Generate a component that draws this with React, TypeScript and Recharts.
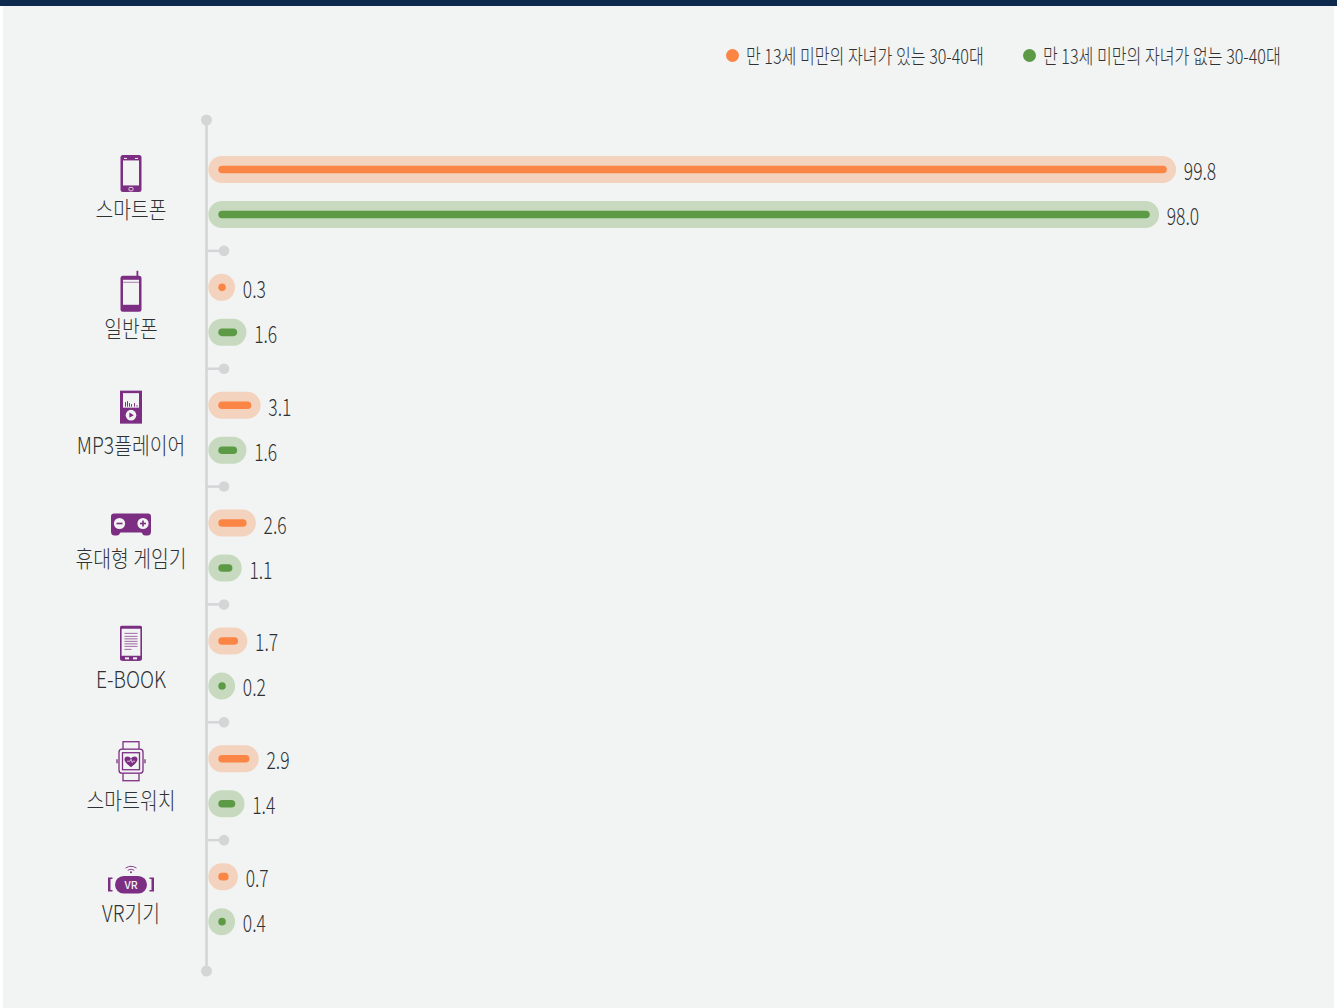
import { BarChart, Bar, XAxis, YAxis, Legend, LabelList, usePlotArea } from "recharts";

const categories = ["스마트폰", "일반폰", "MP3플레이어", "휴대형 게임기", "E-BOOK", "스마트워치", "VR기기"];
const withChildren = [99.8, 0.3, 3.1, 2.6, 1.7, 2.9, 0.7];
const withoutChildren = [98.0, 1.6, 1.6, 1.1, 0.2, 1.4, 0.4];
const seriesNames = ["만 13세 미만의 자녀가 있는 30-40대", "만 13세 미만의 자녀가 없는 30-40대"];

const chartData = categories.map((name, i) => ({
  name,
  withChildren: withChildren[i],
  withoutChildren: withoutChildren[i],
}));

const PANEL = "#f2f4f3";
const NAVY = "#0d2a4e";
const PURPLE = "#7c2e83";
const AXIS = "#d3d5d7";
const TEXT = "#2f3234";
const ORANGE = "#fa8544";
const ORANGE_SOFT = "#f3d2be";
const GREEN = "#5c9a45";
const GREEN_SOFT = "#c7dabf";
const FONT = '"Noto Sans CJK KR", "Noto Sans", sans-serif';

const BAND = 825 / 7;
const LABEL_X = 131;
const CAP = 3.7;

// vertical offsets from the band centre: icon, then caption
const tickOffsets = [
  [-18.5, 18.5],
  [-18, 19],
  [-20.5, 18],
  [-21, 13],
  [-20, 17],
  [-20, 20],
  [-14, 15],
];

function SmartPhone() {
  return (
    <g>
      <rect x={-10.5} y={-18.5} width={21} height={37} rx={2.5} fill={PURPLE} />
      <rect x={-8} y={-13} width={16} height={25} fill={PANEL} />
      <rect x={-7} y={-15.5} width={3} height={1} fill={PANEL} />
      <rect x={4} y={-15.5} width={3} height={1} fill={PANEL} />
      <rect x={-2} y={14} width={4} height={3.4} rx={0.8} fill="none" stroke={PANEL} strokeWidth={0.8} />
    </g>
  );
}

function FeaturePhone() {
  return (
    <g>
      <rect x={5.5} y={-21} width={1.8} height={6} fill={PURPLE} />
      <rect x={-10.5} y={-16} width={21} height={36} rx={2.5} fill={PURPLE} />
      <rect x={-8} y={-12} width={16} height={25} fill={PANEL} />
      <rect x={-8} y={-10} width={16} height={1} fill={PURPLE} opacity={0.6} />
    </g>
  );
}

function Mp3Player() {
  return (
    <g>
      <rect x={-11} y={-16.5} width={22} height={33} fill={PURPLE} />
      <rect x={-8} y={-14} width={16} height={14.5} fill={PANEL} />
      {[-6, -4, -2, 0, 3, 5.5].map((x, i) => (
        <rect key={x} x={x} y={[-5, -6, -4, -3, -4, -2][i]} width={1} height={[4.5, 5.5, 3.5, 2.5, 3.5, 1.5][i]} fill={PURPLE} />
      ))}
      <circle cx={0} cy={8} r={5.3} fill={PANEL} />
      <path d="M-1.6 5.4 L2.8 8 L-1.6 10.6 Z" fill={PURPLE} />
    </g>
  );
}

function GameConsole() {
  return (
    <g>
      <path
        d="M-17 -11 H17 Q20 -11 20 -8 V7 Q20 11 16.5 11 H14 Q12 11 10.5 8 H-10.5 Q-12 11 -14 11 H-16.5 Q-20 11 -20 7 V-8 Q-20 -11 -17 -11 Z"
        fill={PURPLE}
      />
      <circle cx={-11.5} cy={-1} r={5.6} fill={PANEL} />
      <rect x={-14.5} y={-1.8} width={6} height={1.6} fill={PURPLE} />
      <circle cx={12} cy={-1} r={5.6} fill={PANEL} />
      <rect x={9} y={-1.8} width={6} height={1.6} fill={PURPLE} />
      <rect x={11.2} y={-4} width={1.6} height={6} fill={PURPLE} />
    </g>
  );
}

function EBook() {
  return (
    <g>
      <rect x={-10.2} y={-16.5} width={20.4} height={33} rx={2.5} fill="none" stroke={PURPLE} strokeWidth={1.6} />
      <rect x={-11} y={12.5} width={22} height={4.8} rx={2} fill={PURPLE} />
      <rect x={-11} y={-17.5} width={22} height={3} rx={1.5} fill={PURPLE} />
      <rect x={-6} y={14} width={4} height={2} fill={PANEL} />
      <rect x={2} y={14} width={4} height={2} fill={PANEL} />
      {[-10.5, -7.5, -5, -2.5, 0, 2.5, 5.5].map((y, i) => (
        <rect key={y} x={-6.5} y={y} width={i === 6 ? 7 : 13} height={1} fill={PURPLE} opacity={0.7} />
      ))}
    </g>
  );
}

function SmartWatch() {
  return (
    <g fill="none" stroke={PURPLE} strokeWidth={1.3}>
      <rect x={-8} y={-19.5} width={16} height={8} />
      <rect x={-8} y={11.5} width={16} height={8} />
      <rect x={-12} y={-12} width={24} height={24} rx={3} fill={PANEL} />
      <rect x={-8.5} y={-8.5} width={17} height={17} />
      <path d="M-14 -2 V2 M14 -2 V2" />
      <path
        d="M0 6 C-4 3 -6.5 0.5 -6.5 -2 C-6.5 -5.5 -1.5 -5.5 0 -2.5 C1.5 -5.5 6.5 -5.5 6.5 -2 C6.5 0.5 4 3 0 6 Z"
        fill={PURPLE}
        stroke="none"
      />
      <path d="M-4 0 H-1 L0 -2 L1.2 1.5 L2 0 H4" stroke={PANEL} strokeWidth={0.7} />
    </g>
  );
}

function VrHeadset() {
  return (
    <g>
      <rect x={-16} y={-9} width={32} height={17.5} rx={8.7} fill={PURPLE} />
      <path d="M-23 -7.5 H-18.5 V-6 H-20.5 V5 H-18.5 V6.5 H-23 Z" fill={PURPLE} />
      <path d="M23 -7.5 H18.5 V-6 H20.5 V5 H18.5 V6.5 H23 Z" fill={PURPLE} />
      <text x={0} y={4} textAnchor="middle" fontSize={10.5} fontWeight={500} fontFamily={FONT} fill={PANEL}>VR</text>
      <g fill="none" stroke={PURPLE} strokeWidth={0.9}>
        <path d="M-5.5 -17 Q0 -20.5 5.5 -17" />
        <path d="M-3.3 -14.8 Q0 -17 3.3 -14.8" />
      </g>
      <circle cx={0} cy={-12.8} r={1} fill={PURPLE} />
    </g>
  );
}

const icons = [SmartPhone, FeaturePhone, Mp3Player, GameConsole, EBook, SmartWatch, VrHeadset];

// icon, caption and the separator stub below each band
function CategoryTick({ y, payload, index }: any) {
  const Icon = icons[index];
  const [iconDy, textDy] = tickOffsets[index];
  const sepY = y + BAND / 2;
  return (
    <g>
      <g transform={`translate(${LABEL_X},${y + iconDy})`}>
        <Icon />
      </g>
      <text
        transform={`translate(${LABEL_X},${y + textDy + 8}) scale(0.84,1)`}
        textAnchor="middle"
        fontFamily={FONT}
        fontSize={23}
        fontWeight={300}
        fill={TEXT}
      >
        {payload.value}
      </text>
      {index < categories.length - 1 && (
        <g>
          <line x1={207} x2={224} y1={sepY} y2={sepY} stroke={AXIS} strokeWidth={2.5} />
          <circle cx={224} cy={sepY} r={5.3} fill={AXIS} />
        </g>
      )}
    </g>
  );
}

// pale capsule with a thin capsule inside it
function CapsuleBar({ x, y, width, height, fill, soft }: any) {
  const inner = Math.max(7.5, width + CAP);
  const cy = y + height / 2;
  return (
    <g>
      <rect x={x - 10} y={y} width={inner + 19.3} height={height} rx={height / 2} fill={soft} />
      <rect x={x} y={cy - 3.8} width={inner} height={7.6} rx={3.8} fill={fill} />
    </g>
  );
}

function ValueLabel({ x, y, width, height, value }: any) {
  const inner = Math.max(7.5, width + CAP);
  return (
    <text
      transform={`translate(${x + inner + 17},${y + height / 2 + 10.5}) scale(0.76,1)`}
      fontFamily={FONT}
      fontSize={23}
      fontWeight={300}
      fill={TEXT}
    >
      {Number(value).toFixed(1)}
    </text>
  );
}

function AxisEnds() {
  const plot = usePlotArea();
  if (!plot) return null;
  return (
    <g>
      <circle cx={plot.x} cy={plot.y} r={5.5} fill={AXIS} />
      <circle cx={plot.x} cy={plot.y + plot.height} r={5.5} fill={AXIS} />
    </g>
  );
}

function LegendRow() {
  const colors = [ORANGE, GREEN];
  const lefts = [726, 1023];
  return (
    <div style={{ position: "relative", width: 1337, height: 30 }}>
      {seriesNames.map((name, i) => (
        <div key={name} style={{ position: "absolute", left: lefts[i], top: 0, whiteSpace: "nowrap" }}>
          <span
            style={{
              position: "absolute",
              left: 0,
              top: 7,
              width: 13,
              height: 13,
              borderRadius: "50%",
              background: colors[i],
            }}
          />
          <span
            style={{
              position: "absolute",
              left: 20,
              top: 0,
              fontFamily: FONT,
              fontSize: 20,
              fontWeight: 300,
              lineHeight: "28px",
              color: TEXT,
              transform: "scaleX(0.805)",
              transformOrigin: "left center",
            }}
          >
            {name}
          </span>
        </div>
      ))}
    </div>
  );
}

export default function App() {
  return (
    <div style={{ position: "absolute", left: 0, top: 0, width: 1337, height: 1008, background: "#fff", overflow: "hidden" }}>
      <div style={{ position: "absolute", left: 3, right: 3, top: 0, bottom: 0, background: PANEL }} />
      <div style={{ position: "absolute", left: 0, right: 0, top: 0, height: 6, background: NAVY }} />
      <div style={{ position: "absolute", left: 0, top: 0 }}>
        <BarChart
          width={1337}
          height={1008}
          layout="vertical"
          data={chartData}
          barSize={27}
          barGap={18}
          barCategoryGap={0}
          margin={{ top: 120, right: 172, bottom: 37, left: 0 }}
        >
          <XAxis type="number" domain={[0, 100]} hide padding={{ left: 11.8, right: 0 }} />
          <YAxis
            type="category"
            dataKey="name"
            width={206.5}
            padding={{ top: 13, bottom: 13 }}
            axisLine={{ stroke: AXIS, strokeWidth: 2.6 }}
            tickLine={false}
            tick={<CategoryTick />}
            interval={0}
          />
          <Legend
            verticalAlign="middle"
            content={<LegendRow />}
            wrapperStyle={{ position: "absolute", left: 0, top: 42, width: 1337 }}
          />
          <Bar
            dataKey="withChildren"
            name={seriesNames[0]}
            fill={ORANGE}
            isAnimationActive={false}
            shape={(p: any) => <CapsuleBar {...p} fill={ORANGE} soft={ORANGE_SOFT} />}
          >
            <LabelList dataKey="withChildren" content={<ValueLabel />} />
          </Bar>
          <Bar
            dataKey="withoutChildren"
            name={seriesNames[1]}
            fill={GREEN}
            isAnimationActive={false}
            shape={(p: any) => <CapsuleBar {...p} fill={GREEN} soft={GREEN_SOFT} />}
          >
            <LabelList dataKey="withoutChildren" content={<ValueLabel />} />
          </Bar>
          <AxisEnds />
        </BarChart>
      </div>
    </div>
  );
}
